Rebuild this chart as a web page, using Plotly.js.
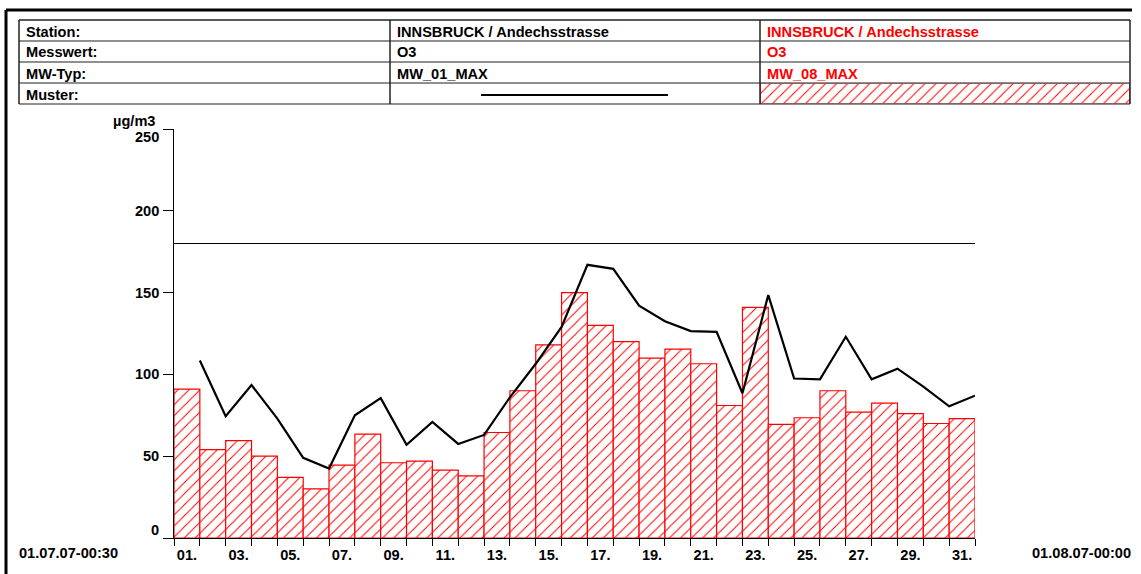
<!DOCTYPE html>
<html>
<head>
<meta charset="utf-8">
<script src="https://cdn.plot.ly/plotly-3.0.1.min.js"></script>
<style>
  html, body { margin: 0; padding: 0; background: #ffffff; }
  #chart { width: 1141px; height: 574px; }
</style>
</head>
<body>
<div id="chart"></div>
<script>
/* O3 daily maxima, Innsbruck / Andechsstrasse, July 2007.
   Hatched red bars = MW_08_MAX (8h mean max), black line = MW_01_MAX (1h max),
   plus the 180 µg/m3 threshold line and the station/series header table. */
(function () {
  "use strict";

  // ---- data ---------------------------------------------------------------
  var DAYS = [1, 2, 3, 4, 5, 6, 7, 8, 9, 10, 11, 12, 13, 14, 15, 16,
              17, 18, 19, 20, 21, 22, 23, 24, 25, 26, 27, 28, 29, 30, 31];
  var DAY_LABELS = ["01.", "02.", "03.", "04.", "05.", "06.", "07.", "08.",
                    "09.", "10.", "11.", "12.", "13.", "14.", "15.", "16.",
                    "17.", "18.", "19.", "20.", "21.", "22.", "23.", "24.",
                    "25.", "26.", "27.", "28.", "29.", "30.", "31."];
  // MW_08_MAX (bars)
  var MW_08_MAX = [91, 54, 59.5, 50, 37, 30, 44.5, 63.5, 46, 47, 41.5, 38,
                   64.5, 90, 118, 150, 130, 120, 110, 115.5, 106.5, 81, 141,
                   69.5, 73.5, 90, 77, 82.5, 76, 70, 73];
  // MW_01_MAX (line, plotted at the end of each day)
  var MW_01_MAX = [108.5, 74.5, 93.5, 73, 49, 42.5, 75, 85.5, 57, 71, 57.5,
                   63, 86, 106.5, 129, 167, 164.5, 142, 132.5, 126.5, 126,
                   88.5, 148.5, 97.5, 97, 123, 97, 103.5, 92.5, 80.5, 87];
  var Y_TICKS = [0, 50, 100, 150, 200, 250];
  var THRESHOLD = 180;

  var ROW_LABELS = ["Station:", "Messwert:", "MW-Typ:", "Muster:"];
  var LINE_INFO = ["INNSBRUCK / Andechsstrasse", "O3", "MW_01_MAX"];
  var BAR_INFO = ["INNSBRUCK / Andechsstrasse", "O3", "MW_08_MAX"];
  var SWATCH = [1];

  var START_LABEL = "01.07.07-00:30";
  var END_LABEL = "01.08.07-00:00";
  var UNIT = "µg/m3";

  // ---- page geometry --------------------------------------------------------
  var W = 1141;
  var H = 574;
  var FONT = "Liberation Sans, Arial, Helvetica, sans-serif";
  var FS = 14.6;
  var RED = "#ff0000";

  // pixel -> paper coordinates (margins are 0, so paper == page)
  function px(x) { return x / W; }
  function py(y) { return 1 - y / H; }

  var PLOT_L = 174, PLOT_R = 975, PLOT_T = 129, PLOT_B = 538;
  var TBL_X = [19, 390, 760, 1130];
  var TBL_Y = [20, 41, 62, 83, 104];

  var shapes = [];
  var annotations = [];

  function line(x0, y0, x1, y1, color, width) {
    shapes.push({
      type: "line", xref: "paper", yref: "paper",
      x0: px(x0), y0: py(y0), x1: px(x1), y1: py(y1),
      line: { color: color, width: width },
    });
  }

  function text(str, x, y, color, anchor) {
    annotations.push({
      text: str, xref: "paper", yref: "paper",
      x: px(x), y: py(y), xanchor: anchor || "left", yanchor: "middle",
      showarrow: false, borderpad: 0,
      font: { family: FONT, size: FS, color: color, weight: "bold" },
    });
  }

  // outer frame (top + left only)
  line(6, 10, 1132, 10, "#000000", 3);
  line(6, 10, 6, H, "#000000", 3);

  // header table
  for (var r = 1; r < TBL_Y.length - 1; r++) {
    line(TBL_X[0], TBL_Y[r], TBL_X[3], TBL_Y[r], "#6a6a6a", 1.5);
  }
  line(TBL_X[0], TBL_Y[0], TBL_X[3], TBL_Y[0], "#222222", 1.5);
  line(TBL_X[0], TBL_Y[4], TBL_X[3], TBL_Y[4], "#6a6a6a", 1.5);
  TBL_X.forEach(function (x) {
    line(x, TBL_Y[0], x, TBL_Y[4], "#222222", 1.5);
  });

  ROW_LABELS.forEach(function (lab, i) {
    var yc = (TBL_Y[i] + TBL_Y[i + 1]) / 2 + 1;
    text(lab, TBL_X[0] + 6, yc, "#000000");
  });
  LINE_INFO.forEach(function (s, i) {
    text(s, TBL_X[1] + 6, (TBL_Y[i] + TBL_Y[i + 1]) / 2 + 1, "#000000");
  });
  BAR_INFO.forEach(function (s, i) {
    text(s, TBL_X[2] + 6, (TBL_Y[i] + TBL_Y[i + 1]) / 2 + 1, RED);
  });
  // line swatch in the "Muster" row
  line(481, 95, 668, 95, "#000000", 2);

  // unit + time-span labels
  text(UNIT, 156, 121, "#000000", "right");
  text(START_LABEL, 18, 553, "#000000");
  text(END_LABEL, 1132, 553, "#000000", "right");

  // y tick labels: ends nudged inwards like the original
  Y_TICKS.forEach(function (v, i) {
    var shift = 0;
    if (i === 0) shift = 8;
    if (i === Y_TICKS.length - 1) shift = -8;
    annotations.push({
      text: String(v), xref: "paper", yref: "y",
      x: px(160), y: v, xanchor: "right", yanchor: "middle", yshift: shift,
      showarrow: false, borderpad: 0,
      font: { family: FONT, size: FS, color: "#000000", weight: "bold" },
    });
  });

  // threshold line
  shapes.push({
    type: "line", xref: "x domain", yref: "y",
    x0: 0, x1: 1, y0: THRESHOLD, y1: THRESHOLD,
    line: { color: "#000000", width: 1 },
  });

  // odd-day labels centred on their bar, ticks on the day boundaries
  var tickVals = [];
  var tickText = [];
  DAYS.forEach(function (d, i) {
    if (i % 2 === 0) {
      tickVals.push(d - 0.5);
      tickText.push(DAY_LABELS[i]);
    }
  });

  var hatch = {
    shape: "/", fgcolor: RED, bgcolor: "#ffffff",
    size: 7.8, solidity: 0.13, fillmode: "replace",
  };

  var traces = [
    {
      type: "bar",
      x: DAYS,
      y: MW_08_MAX,
      width: 1,
      offset: -1,
      marker: { color: "#ffffff", line: { color: RED, width: 1.2 }, pattern: hatch },
      showlegend: false,
      hoverinfo: "skip",
    },
    {
      type: "scatter",
      mode: "lines",
      x: DAYS,
      y: MW_01_MAX,
      line: { color: "#000000", width: 2.2 },
      showlegend: false,
      hoverinfo: "skip",
    },
    // hatched swatch in the header table
    {
      type: "bar",
      x: [0.5],
      y: SWATCH,
      width: 1,
      xaxis: "x2",
      yaxis: "y2",
      marker: { color: "#ffffff", line: { color: RED, width: 1.5 }, pattern: hatch },
      showlegend: false,
      hoverinfo: "skip",
    },
  ];

  var layout = {
    width: W,
    height: H,
    margin: { l: 0, r: 0, t: 0, b: 0 },
    paper_bgcolor: "#ffffff",
    plot_bgcolor: "#ffffff",
    font: { family: FONT, size: FS, color: "#000000", weight: "bold" },
    showlegend: false,
    bargap: 0,
    xaxis: {
      domain: [px(PLOT_L), px(PLOT_R)],
      range: [0, DAYS[DAYS.length - 1]],
      showgrid: false,
      zeroline: false,
      showline: true,
      linecolor: "#000000",
      linewidth: 1,
      layer: "below traces",
      tickmode: "array",
      tickvals: tickVals,
      ticktext: tickText,
      ticks: "outside",
      ticklen: 3,
      tickcolor: "rgba(0,0,0,0)",
      tickfont: { family: FONT, size: FS, color: "#000000", weight: "bold" },
      minor: { ticks: "outside", ticklen: 7, tickcolor: "#000000", tick0: 0, dtick: 1, showgrid: false },
      fixedrange: true,
    },
    yaxis: {
      domain: [py(PLOT_B), py(PLOT_T)],
      range: [0, 250],
      showgrid: false,
      zeroline: false,
      showline: true,
      linecolor: "#000000",
      linewidth: 1,
      tickmode: "array",
      tickvals: Y_TICKS,
      ticks: "outside",
      ticklen: 10,
      tickcolor: "#000000",
      showticklabels: false,
      fixedrange: true,
    },
    xaxis2: {
      domain: [px(TBL_X[2]), px(TBL_X[3])],
      range: [0, 1],
      anchor: "y2",
      visible: false,
      fixedrange: true,
    },
    yaxis2: {
      domain: [py(TBL_Y[4]), py(TBL_Y[3])],
      range: [0, 1],
      anchor: "x2",
      visible: false,
      fixedrange: true,
    },
    shapes: shapes,
    annotations: annotations,
  };

  Plotly.newPlot("chart", traces, layout, { displayModeBar: false, staticPlot: true });
})();
</script>
</body>
</html>
